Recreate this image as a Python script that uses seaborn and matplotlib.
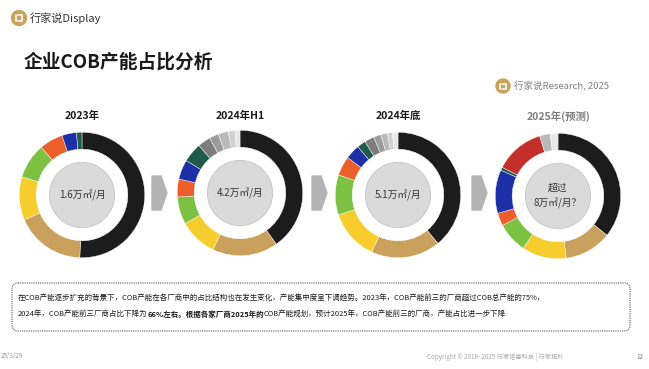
import numpy as np
import seaborn as sns
import matplotlib.pyplot as plt
from matplotlib.patches import Circle, Polygon, FancyBboxPatch

# period titles and centre labels
periods = ["2023年", "2024年H1", "2024年底", "2025年(预测)"]
centre_labels = ["1.6万㎡/月", "4.2万㎡/月", "5.1万㎡/月", "超过\n8万㎡/月？"]

vendors_2023 = ["A", "B", "C", "D", "E", "F", "G"]
share_2023 = [50.0, 17.8, 11.0, 9.0, 6.0, 3.7, 1.4]

vendors_2024h1 = ["A", "B", "C", "D", "E", "F", "G", "g1", "g2", "g3", "g4", "g5"]
share_2024h1 = [40.0, 16.8, 9.8, 7.0, 4.6, 5.0, 5.0, 3.3, 2.4, 2.6, 1.7, 1.3]

vendors_2024 = ["A", "B", "C", "D", "E", "F", "G", "g1", "g2", "g3", "g4", "g5"]
share_2024 = [39.0, 17.8, 13.0, 10.3, 5.0, 3.8, 2.2, 2.5, 1.9, 1.7, 1.3, 1.4]

vendors_2025 = ["A", "B", "C", "D", "E", "F", "G", "H", "g3", "g5"]
share_2025 = [35.7, 12.1, 11.4, 7.9, 3.3, 11.2, 0.8, 12.7, 2.7, 2.0]

vendor_colors = {
    "A": "#1c1c1c", "B": "#c9a05c", "C": "#f7cd2e", "D": "#7dc142",
    "E": "#ec5f2a", "F": "#1c2fa6", "G": "#1f5a4b", "H": "#c3302a",
    "g1": "#7d7d7d", "g2": "#9c9c9c", "g3": "#b9b9b9", "g4": "#d0d0d0", "g5": "#e8e8e8",
}

rings = [
    (vendors_2023, share_2023),
    (vendors_2024h1, share_2024h1),
    (vendors_2024, share_2024),
    (vendors_2025, share_2025),
]

sns.set_theme(style="white")
plt.rcParams["font.family"] = ["Noto Sans CJK SC", "DejaVu Sans"]

W, H = 649, 369
fig = plt.figure(figsize=(W / 100, H / 100), dpi=100)
fig.patch.set_facecolor("white")

# full-page overlay in pixel coordinates
bg = fig.add_axes([0, 0, 1, 1])
bg.set_xlim(0, W)
bg.set_ylim(H, 0)
bg.axis("off")

gold = "#c8a35a"


def logo(x, y, r):
    bg.add_patch(Circle((x, y), r, color=gold, zorder=2))
    bg.plot([x - r * 0.45, x - r * 0.45], [y - r * 0.35, y + r * 0.4], color="white", lw=1.2, zorder=3)
    bg.plot([x - r * 0.1, x + r * 0.45, x + r * 0.45, x - r * 0.1],
            [y - r * 0.35, y - r * 0.35, y + r * 0.4, y + r * 0.4], color="white", lw=1.2, zorder=3)


# header
logo(19, 18, 7.5)
bg.text(30, 18.5, "行家说Display", fontsize=8, color="#333333", va="center", ha="left")
bg.text(24, 62, "企业COB产能占比分析", fontsize=13.5, fontweight="bold", color="#1a1a1a",
        va="center", ha="left")
logo(503, 86, 7)
bg.text(514, 86.5, "行家说Research, 2025", fontsize=6.8, color="#7f7f7f", style="italic",
        va="center", ha="left")

# donuts
centres = [(82, 195), (240, 193), (398, 195), (558, 196)]
radius = 64
title_colors = ["#1a1a1a", "#1a1a1a", "#1a1a1a", "#7f7f7f"]

for (cx, cy), (vendors, shares), title, label, tcol in zip(centres, rings, periods,
                                                            centre_labels, title_colors):
    ax = fig.add_axes([(cx - radius) / W, (H - cy - radius) / H, 2 * radius / W, 2 * radius / H])
    ax.pie(shares, colors=[vendor_colors[v] for v in vendors], startangle=90,
           counterclock=False, radius=1.0,
           wedgeprops=dict(width=0.27, edgecolor="white", linewidth=0.3))
    ax.add_patch(Circle((0, 0), 0.52, facecolor="#dadada", edgecolor="#c4c4c4", lw=0.6))
    ax.set_xlim(-1.02, 1.02)
    ax.set_ylim(-1.02, 1.02)
    ax.set_aspect("equal")
    ax.axis("off")
    ax.text(0, 0, label, ha="center", va="center", fontsize=7, color="#333333",
            linespacing=1.5)
    bg.text(cx, 116, title, ha="center", va="center", fontsize=7.5, fontweight="bold",
            color=tcol)

# arrows between rings
for x0 in [152, 312, 472]:
    bg.add_patch(Polygon([(x0, 176), (x0 + 9, 176), (x0 + 15, 193), (x0 + 9, 210), (x0, 210)],
                         closed=True, color="#b3b3b3", zorder=1))

# note box
bg.add_patch(FancyBboxPatch((12, 283), 618, 48, boxstyle="round,pad=0,rounding_size=6",
                            facecolor="none", edgecolor="#555555", lw=0.8, linestyle=(0, (1, 1))))
line1 = ("在COB产能逐步扩充的背景下，COB产能在各厂商中的占比结构也在发生变化，产能集中度呈下调趋势。"
         "2023年，COB产能前三的厂商超过COB总产能的75%，")
bg.text(18, 298, line1, fontsize=5.4, color="#1a1a1a", va="center", ha="left")

line2_parts = [
    ("2024年，COB产能前三厂商占比下降为", "normal"),
    ("66%左右。根据各家厂商2025年的", "bold"),
    ("COB产能规划，预计2025年，COB产能前三的厂商，产能占比进一步下降", "normal"),
]
renderer = fig.canvas.get_renderer()
x = 18
for txt, wt in line2_parts:
    t = bg.text(x, 314, txt, fontsize=5.4, color="#1a1a1a", va="center", ha="left",
                fontweight=wt)
    bb = t.get_window_extent(renderer=renderer)
    x += bb.width

# footer
bg.text(1, 356, "25/3/29", fontsize=4.5, color="#9a9a9a", va="center", ha="left")
bg.text(427, 357, "Copyright © 2016- 2025 行家信息科技 | 行家拓扑", fontsize=4.5,
        color="#a6a6a6", va="center", ha="left")
bg.text(636, 357, "12", fontsize=4.5, color="#777777", va="center", ha="left")

fig.savefig("out.png", dpi=100)
